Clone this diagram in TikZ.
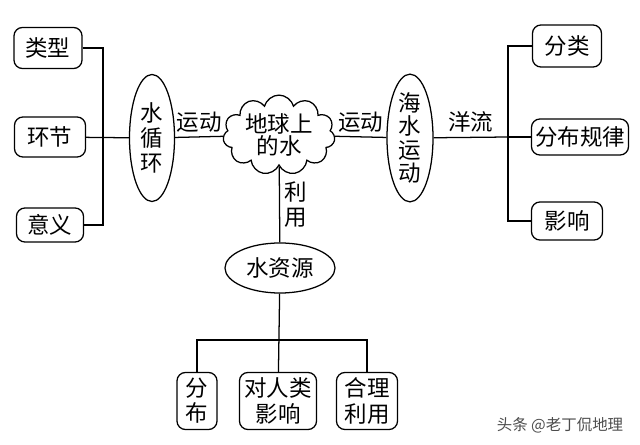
\documentclass[tikz,border=0pt]{standalone}
\usepackage{fontspec}
\setmainfont{Noto Sans CJK SC}
\usetikzlibrary{shapes.geometric,shapes.symbols}

\begin{document}
\begin{tikzpicture}[x=0.025cm, y=-0.025cm, line width=0.9pt,
        font=\fontsize{16}{18}\selectfont,
        box/.style = {draw, rounded corners=6pt, inner sep=2pt, align=center},
        oval/.style = {draw, ellipse, inner sep=0pt, align=center},
        lbl/.style = {inner sep=3pt}]
        \useasboundingbox (0,0) rectangle (640,445);
        % middle
        \node[draw, cloud, cloud puffs=11, aspect=1.6, inner sep=0pt, align=center,
              minimum width=2.8cm, minimum height=1.75cm] (1) at (279,135) {地球上\\[-2pt]的水};
        \node[oval, minimum width=1.125cm, minimum height=3.175cm] (2) at (152,138) {水\\循\\环};
        \node[oval, minimum width=1.15cm, minimum height=3.075cm,
              font=\fontsize{16}{16.5}\selectfont] (3) at (410,138) {海\\水\\运\\动};
        \node[oval, minimum width=2.75cm, minimum height=1.25cm] (4) at (280,268) {水资源};
        % left
        \node[box, minimum width=1.7cm, minimum height=1.025cm] (5) at (48,48) {类型};
        \node[box, minimum width=1.775cm, minimum height=1cm] (6) at (50,137) {环节};
        \node[box, minimum width=1.675cm, minimum height=0.85cm] (7) at (50,225) {意义};
        % right
        \node[box, minimum width=1.725cm, minimum height=1.05cm] (8) at (567,46) {分类};
        \node[box, minimum width=2.425cm, minimum height=0.9cm] (9) at (580,137) {分布规律};
        \node[box, minimum width=1.775cm, minimum height=0.95cm] (10) at (567,221) {影响};
        % bottom
        \node[box, minimum width=1cm, minimum height=1.425cm] (11) at (197,401) {分\\布};
        \node[box, minimum width=1.925cm, minimum height=1.425cm] (12) at (278,401) {对人类\\影响};
        \node[box, minimum width=1.525cm, minimum height=1.425cm] (13) at (367,401) {合理\\利用};
        \node[text=black!70, font=\fontsize{11}{13}\selectfont] (14) at (560,425) {头条 @老丁侃地理};

        \coordinate (a) at (103,137);
        \coordinate (b) at (508,137);
        \coordinate (c) at (280,340);

        \draw (5.east) -| (a);
        \draw (7.east) -| (a);
        \draw (6) -- (2);
        \draw (2) -- node[lbl, above] {运动} (1);
        \draw (1) -- node[lbl, above] {运动} (3);
        \draw (3) -- node[lbl, above] {洋流} (b);
        \draw (b) -- (9);
        \draw (b) |- (8.west);
        \draw (b) |- (10.west);
        \draw (1) -- node[lbl, right, align=center] {利\\用} (4);
        \draw (4) -- (12);
        \draw (11.north) |- (c);
        \draw (13.north) |- (c);
    \end{tikzpicture}
\end{document}
